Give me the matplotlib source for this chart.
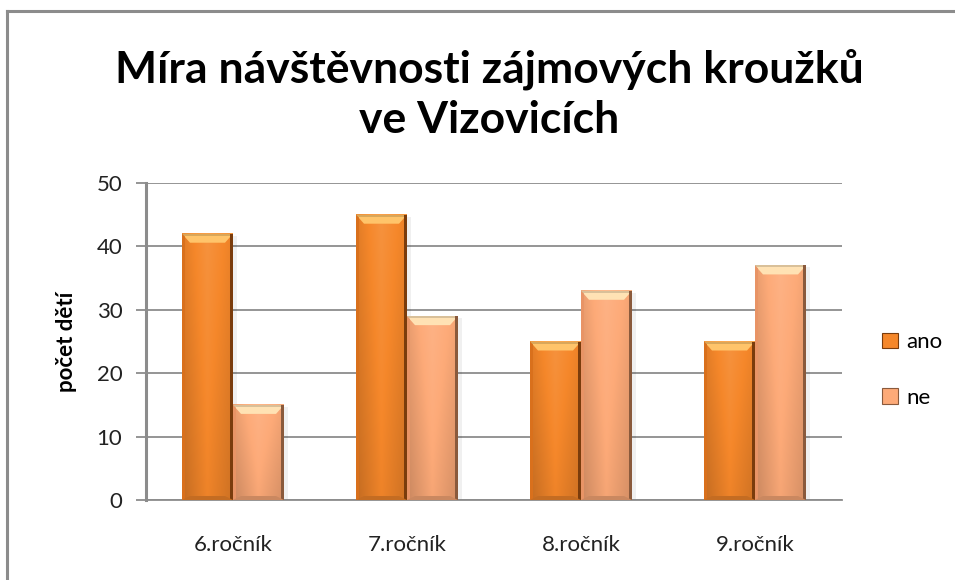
import numpy as np
import matplotlib
matplotlib.use('Agg')
import matplotlib.pyplot as plt
from matplotlib.patches import Polygon, Rectangle, Patch
from matplotlib import colors
from matplotlib.lines import Line2D

# data
categories = ['6.ročník', '7.ročník', '8.ročník', '9.ročník']
series_names = ['ano', 'ne']
ano = [42, 45, 25, 25]
ne = [15, 29, 33, 37]
title = 'Míra návštěvnosti zájmových kroužků\nve Vizovicích'
ylabel = 'počet dětí'
yticks = [0, 10, 20, 30, 40, 50]

plt.rcParams['font.family'] = ['Lato', 'DejaVu Sans']

W, H = 955, 580
fig = plt.figure(figsize=(W / 100, H / 100), dpi=100)
fig.patch.set_facecolor('white')

# outer frame (only top and left edges are visible)
fig.add_artist(Line2D([7 / W, 1], [1 - 11 / H, 1 - 11 / H], color='#8c8c8c', lw=2.2))
fig.add_artist(Line2D([7 / W, 7 / W], [0, 1 - 11 / H], color='#8c8c8c', lw=2.2))

ax_l, ax_r, ax_t, ax_b = 146, 842, 183, 500
ax = fig.add_axes([ax_l / W, 1 - ax_b / H, (ax_r - ax_l) / W, (ax_b - ax_t) / H])

n = len(categories)
xmin, xmax, ymax = -0.5, n - 0.5, 50
px_x = (xmax - xmin) / (ax_r - ax_l)
px_y = ymax / (ax_b - ax_t)
bw = 51 * px_x

styles = {
    'ano': dict(base='#f5872a', light='#ffc46a', dark='#7a3c0c', side='#d9701c'),
    'ne': dict(base='#fdaa78', light='#ffe2b4', dark='#8a5a3c', side='#e89466'),
}


def shade(c, f):
    c = np.array(colors.to_rgb(c))
    if f >= 0:
        return c + (1 - c) * f
    return c * (1 + f)


def bevel_bar(x0, h, st):
    x1 = x0 + bw
    # gradient body: slightly lighter centre, darker towards bottom
    cols = 40
    prof = np.concatenate([np.linspace(-0.12, 0.05, cols // 2), np.linspace(0.05, -0.08, cols // 2)])
    vert = np.linspace(-0.08, 0.04, 30)
    img = np.zeros((30, cols, 3))
    for i, v in enumerate(vert):
        for j, p in enumerate(prof):
            img[i, j] = np.clip(shade(st['base'], p + v), 0, 1)
    ax.imshow(img, extent=(x0, x1, 0, h), origin='lower', aspect='auto',
              interpolation='bilinear', zorder=3)
    bx, by = 8 * px_x, 9 * px_y
    # top bevel
    ax.add_patch(Polygon([(x0, h), (x1, h), (x1 - bx, h - by), (x0 + bx, h - by)],
                         closed=True, facecolor=st['light'], edgecolor='none', zorder=4))
    ax.add_patch(Polygon([(x0, h), (x1, h), (x1, h - 2 * px_y), (x0, h - 2 * px_y)],
                         closed=True, facecolor=shade(st['light'], -0.15), edgecolor='none', zorder=4))
    # left side
    ax.add_patch(Polygon([(x0, h), (x0 + 3 * px_x, h - 3 * px_y), (x0 + 3 * px_x, 0), (x0, 0)],
                         closed=True, facecolor=st['side'], edgecolor='none', zorder=4))
    # right dark edge
    ax.add_patch(Rectangle((x1 - 3 * px_x, 0), 3 * px_x, h, facecolor=st['dark'],
                           edgecolor='none', zorder=4))
    # bottom bevel
    ax.add_patch(Polygon([(x0, 0), (x1, 0), (x1 - bx, 4 * px_y), (x0 + bx, 4 * px_y)],
                         closed=True, facecolor=shade(st['base'], -0.2), edgecolor='none', zorder=4))
    # soft shadow
    ax.add_patch(Rectangle((x1, 0), 4 * px_x, h - 2 * px_y, facecolor='#000000', alpha=0.06,
                           edgecolor='none', zorder=2))


x = np.arange(n)
for i in range(n):
    bevel_bar(x[i] - bw, ano[i], styles['ano'])
    bevel_bar(x[i], ne[i], styles['ne'])

ax.set_xlim(xmin, xmax)
ax.set_ylim(0, ymax)
ax.set_yticks(yticks)
ax.set_yticklabels([str(t) for t in yticks], fontsize=16, color='#222222')
ax.set_xticks(x)
ax.set_xticklabels(categories, fontsize=16, color='#222222')
ax.tick_params(axis='x', length=0, pad=25)
ax.tick_params(axis='y', length=7, width=1.3, color='#8c8c8c', pad=10)
ax.yaxis.grid(True, color='#8c8c8c', lw=1.3, zorder=1)
ax.set_axisbelow(True)
for s in ['top', 'right']:
    ax.spines[s].set_visible(False)
ax.spines['left'].set_color('#8c8c8c')
ax.spines['left'].set_linewidth(2.2)
ax.spines['bottom'].set_color('#8c8c8c')
ax.spines['bottom'].set_linewidth(1.3)
ax.set_ylabel(ylabel, fontsize=16, fontweight='bold', labelpad=14)

fig.text(489 / W, 1 - 94 / H, title, ha='center', va='center', fontsize=32,
         fontweight='bold', linespacing=1.3)

handles = [Patch(facecolor=styles['ano']['base'], edgecolor=styles['ano']['dark'], lw=0.8),
           Patch(facecolor=styles['ne']['base'], edgecolor=styles['ne']['dark'], lw=0.8)]
fig.legend(handles, series_names, loc='center left', bbox_to_anchor=(862 / W, 1 - 370 / H),
           frameon=False, fontsize=16, handlelength=0.7, handleheight=0.7,
           labelspacing=1.6, handletextpad=0.4)

fig.savefig('out.png', dpi=100)
